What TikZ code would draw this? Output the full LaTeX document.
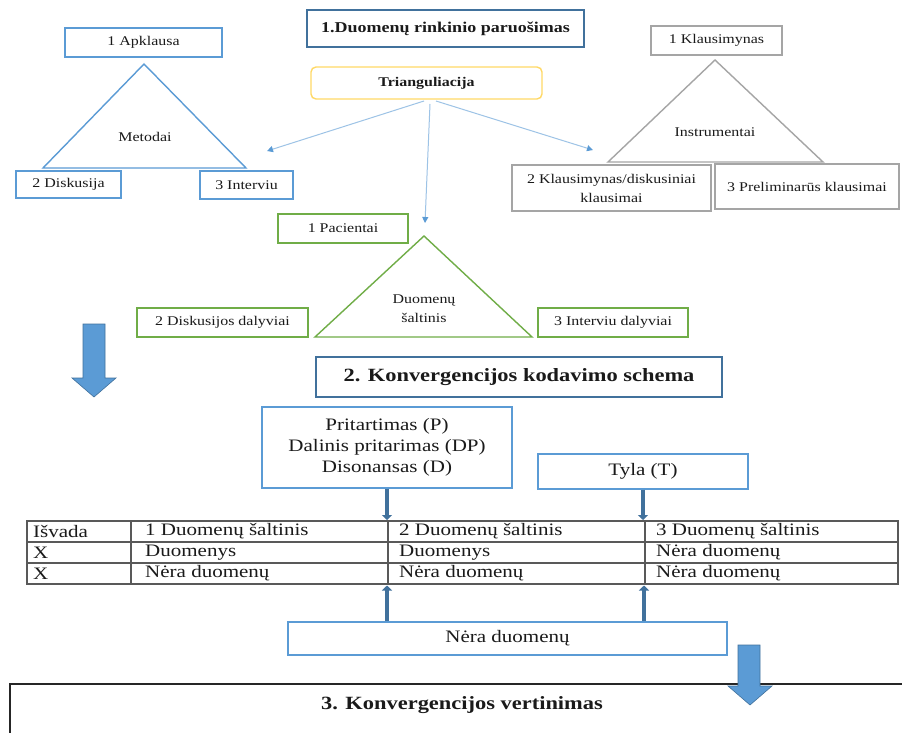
\documentclass[tikz,border=0pt]{standalone}
\usepackage{fontspec}
\setmainfont[FakeStretch=1.2]{Liberation Serif}
\usetikzlibrary{arrows.meta}
\definecolor{cblue}{HTML}{5B9BD5}
\definecolor{cdark}{HTML}{41719C}
\definecolor{cgreen}{HTML}{70AD47}
\definecolor{cgray}{HTML}{A5A5A5}
\definecolor{cyel}{HTML}{FFD966}
\definecolor{clight}{HTML}{9DC3E6}
\definecolor{ctext}{HTML}{1A1A1A}
\definecolor{cgrid}{HTML}{595959}
\begin{document}
\begin{tikzpicture}[x=1pt,y=-1pt,
  fs/.style={font=\fontsize{13.3}{19}\selectfont},
  fl/.style={font=\fontsize{17.5}{21}\selectfont},
  box/.style={draw, line width=1.4pt, inner sep=0pt, align=center, text=ctext, fs},
  bbox/.style={box, draw=cblue},
  gbox/.style={box, draw=cgreen},
  kbox/.style={box, draw=cgray},
  tbox/.style={box, draw=cdark, line width=1.8pt},
  tri/.style={line width=1.4pt, line join=miter},
  thin/.style={draw=clight, line width=1pt, -{Triangle[length=6pt,width=6pt,color=cblue]}},
  thick/.style={draw=cdark, line width=3.5pt, -{Triangle[length=5pt,width=10pt]}},
  big/.style={fill=cblue, draw=cdark, line width=0.6pt},
  cell/.style={anchor=west, inner sep=0pt, text=ctext, fl}
]
\useasboundingbox (0,0) rectangle (902,733);
\fill[white] (0,0) rectangle (902,733);

% ---------- Metodai ----------
\node[bbox, minimum width=157, minimum height=29] (apk) at (143.5,42.5) {1 Apklausa};
\coordinate (mA) at (144,64);
\coordinate (mL) at (43,168);
\coordinate (mR) at (246,168);
\draw[tri, draw=cblue] (mA) -- (mR) -- (mL) -- cycle;
\node[fs, text=ctext] (met) at (145,137) {Metodai};
\node[bbox, minimum width=105, minimum height=27] (disk) at (68.5,184.5) {2 Diskusija};
\node[bbox, minimum width=93, minimum height=28] (intv) at (246.5,185) {3 Interviu};

% ---------- Title and triangulation ----------
\node[tbox, minimum width=277, minimum height=37, font=\fontsize{15}{18}\selectfont\bfseries] (t1) at (445.5,28.5) {1.Duomenų rinkinio paruošimas};
\node[box, draw=cyel, rounded corners=5pt, minimum width=231, minimum height=32, font=\fontsize{13.3}{16}\selectfont\bfseries] (trg) at (426.5,83) {Trianguliacija};

% ---------- Instrumentai ----------
\node[kbox, minimum width=131, minimum height=29] (kl1) at (716.5,40.5) {1 Klausimynas};
\coordinate (iA) at (715,60);
\coordinate (iL) at (608,162);
\coordinate (iR) at (823,162);
\draw[tri, draw=cgray] (iA) -- (iR) -- (iL) -- cycle;
\node[fs, text=ctext] (ins) at (715,132) {Instrumentai};
\node[kbox, minimum width=199, minimum height=46] (kl2) at (611.5,188) {2 Klausimynas/diskusiniai\\klausimai};
\node[kbox, minimum width=184, minimum height=45] (kl3) at (807,186.5) {3 Preliminarūs klausimai};

% ---------- Duomenų šaltinis ----------
\node[gbox, minimum width=130, minimum height=29] (pac) at (343,228.5) {1 Pacientai};
\coordinate (dA) at (424,236);
\coordinate (dL) at (315,337);
\coordinate (dR) at (532,337);
\draw[tri, draw=cgreen] (dA) -- (dR) -- (dL) -- cycle;
\node[fs, text=ctext, align=center] (dsr) at (424,309) {Duomenų\\šaltinis};
\node[gbox, minimum width=171, minimum height=29] (dd) at (222.5,322.5) {2 Diskusijos dalyviai};
\node[gbox, minimum width=150, minimum height=29] (idl) at (613,322.5) {3 Interviu dalyviai};

% ---------- triangulation arrows ----------
\coordinate (s1) at (424,101);
\coordinate (s2) at (430,104);
\coordinate (s3) at (436,101);
\coordinate (e1) at (267,151);
\coordinate (e2) at (425,223);
\coordinate (e3) at (593,150);
\draw[thin] (s1) -- (e1);
\draw[thin] (s2) -- (e2);
\draw[thin] (s3) -- (e3);

% ---------- big arrow left ----------
\draw[big] (83,324) -- (105,324) -- (105,378) -- (116,378) -- (94,397) -- (72,378) -- (83,378) -- cycle;

% ---------- coding scheme ----------
\node[tbox, minimum width=406, minimum height=40, font=\fontsize{18.7}{22}\selectfont\bfseries] (kod) at (519,377) {2. Konvergencijos kodavimo schema};
\node[bbox, fl, minimum width=250, minimum height=81] (prit) at (387,447.5) {Pritartimas (P)\\Dalinis pritarimas (DP)\\Disonansas (D)};
\node[bbox, fl, minimum width=210, minimum height=35] (tyla) at (643,471.5) {Tyla (T)};

% ---------- table ----------
\draw[cgrid, line width=1.2pt] (27,521) rectangle (898,584);
\draw[cgrid, line width=1.2pt] (27,542) -- (898,542) (27,563) -- (898,563)
  (131,521) -- (131,584) (388,521) -- (388,584) (645,521) -- (645,584);
\node[cell] (c00) at (33,531.5) {Išvada};
\node[cell] (c01) at (145,531.5) {1 Duomenų šaltinis};
\node[cell] (c02) at (399,531.5) {2 Duomenų šaltinis};
\node[cell] (c03) at (656,531.5) {3 Duomenų šaltinis};
\node[cell] (c10) at (33,552.5) {X};
\node[cell] (c11) at (145,552.5) {Duomenys};
\node[cell] (c12) at (399,552.5) {Duomenys};
\node[cell] (c13) at (656,552.5) {Nėra duomenų};
\node[cell] (c20) at (33,573.5) {X};
\node[cell] (c21) at (145,573.5) {Nėra duomenų};
\node[cell] (c22) at (399,573.5) {Nėra duomenų};
\node[cell] (c23) at (656,573.5) {Nėra duomenų};

\coordinate (a1) at (387,520);
\coordinate (a2) at (643,520);
\coordinate (b1) at (387,585.5);
\coordinate (b2) at (644,585.5);
\draw[thick] (prit.south) -- (a1);
\draw[thick] (tyla.south) -- (a2);

\node[bbox, fl, minimum width=439, minimum height=33] (nera) at (507.5,638.5) {Nėra duomenų};
\draw[thick] (nera.north -| b1) -- (b1);
\draw[thick] (nera.north -| b2) -- (b2);

% ---------- bottom box ----------
\draw[line width=2.5pt, black!85] (10,733) -- (10,684) -- (902,684);
\node[inner sep=0pt, text=ctext, font=\fontsize{18.7}{22}\selectfont\bfseries] (ver) at (462,705) {3. Konvergencijos vertinimas};
\draw[big] (738,645) -- (760,645) -- (760,686) -- (772,686) -- (750,705) -- (728,686) -- (738,686) -- cycle;
\end{tikzpicture}
\end{document}
